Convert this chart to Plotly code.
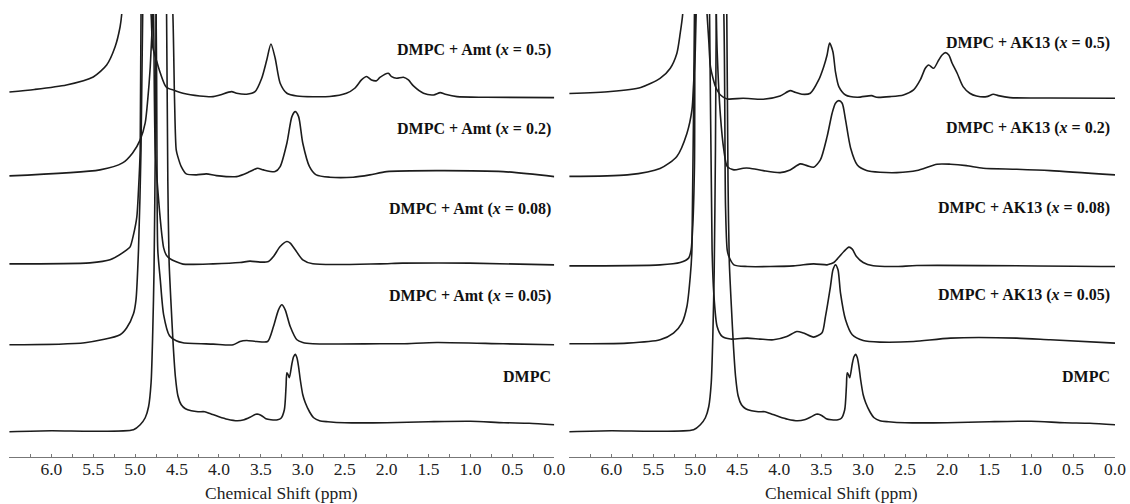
import plotly.graph_objects as go

FONT = "Liberation Serif, Times New Roman, serif"

# ---------------- Left panel: DMPC + Amt ----------------
AMT05_PPM = [6.50, 6.20, 5.82, 5.50, 5.34, 5.24, 5.18, 5.16, 5.00, 4.81, 4.79, 4.74, 4.70, 4.63, 4.53, 4.43,
             4.23, 4.07, 3.99, 3.85, 3.79, 3.67, 3.57, 3.49, 3.43, 3.38, 3.33, 3.27, 3.19, 3.07, 2.68, 2.48,
             2.38, 2.30, 2.24, 2.18, 2.12, 2.08, 1.98, 1.94, 1.88, 1.80, 1.74, 1.68, 1.56, 1.44, 1.36, 1.30,
             1.16, 0.81, 0.00]
AMT05_INT = [0, 2.5, 7, 15, 27, 45, 65, 78, 300, 78, 45, 30, 19, 5, 1.5, -1.3,
             -4, -4.7, -3, 0.3, -1.3, -2.3, 0.3, 13.7, 32, 48, 34, 8.7, -1.3, -4, -4.5, -1.3,
             3.7, 12, 15.5, 12, 11.3, 14.5, 18.7, 15.3, 13.7, 14.7, 12, 6, -1.3, -3, -0.7, -2.3,
             -4.7, -5.3, -5.7]

AMT02_PPM = [6.50, 5.42, 5.15, 5.03, 4.94, 4.88, 4.85, 4.82, 4.79, 4.67, 4.55, 4.53, 4.51, 4.49, 4.45, 4.39,
             4.27, 4.15, 4.03, 3.79, 3.63, 3.54, 3.47, 3.33, 3.27, 3.19, 3.13, 3.09, 3.05, 3.00, 2.92, 2.84,
             2.68, 2.40, 2.20, 2.00, 1.40, 0.61, 0.00]
AMT02_INT = [0, 6, 13, 23, 36, 53, 76, 109, 162, 400, 162, 76, 26, 19, 9.3, 2,
             1, 2, 0.3, -0.7, 4.3, 7.7, 6, 4.3, 9.3, 32.7, 59.3, 64.3, 59.3, 32.7, 9.3, 1,
             -1.3, -1.3, 1, 4.3, 5.3, 4.3, -0.7]

AMT008_PPM = [6.50, 5.54, 5.30, 5.10, 5.06, 5.02, 4.98, 4.96, 4.94, 4.93, 4.85, 4.78, 4.76, 4.72, 4.68, 4.66,
              4.63, 4.59, 4.51, 4.43, 4.07, 3.75, 3.63, 3.51, 3.41, 3.35, 3.27, 3.19, 3.15, 3.09, 3.00, 2.88,
              2.08, 1.81, 1.01, 0.00]
AMT008_INT = [0, 1, 4, 14, 17, 29, 47, 74, 114, 250, 600, 250, 114, 64, 28, 16,
              9, 5.5, 2, -0.3, 0, 1.3, 2.7, 1.7, 2.3, 7.3, 17.3, 22.3, 20.7, 14, 4, 0,
              0, 0.7, 0.7, -1]

AMT005_PPM = [6.50, 5.60, 5.18, 5.10, 5.02, 4.99, 4.96, 4.93, 4.91, 4.84, 4.75, 4.74, 4.73, 4.70, 4.66, 4.59,
              4.51, 4.43, 4.07, 3.83, 3.75, 3.67, 3.55, 3.42, 3.35, 3.29, 3.25, 3.21, 3.15, 3.07, 3.00, 2.88,
              2.08, 1.81, 1.40, 0.61, 0.00]
AMT005_INT = [0, 2, 10, 17, 31, 45, 95, 195, 331, 600, 331, 195, 95, 65, 30, 9,
              4, 2, 0.7, 0, 3.3, 4.3, 3.3, 3.3, 18.3, 35, 40, 35, 18.3, 5, 2.3, 1,
              1, 1, 2.3, 1, 0]

# ---------------- Pure DMPC (same spectrum in both panels) ----------------
DMPC_PPM = [6.50, 6.00, 5.50, 5.02, 4.94, 4.88, 4.84, 4.81, 4.79, 4.775, 4.76, 4.75, 4.69, 4.625, 4.61, 4.595,
            4.57, 4.545, 4.52, 4.49, 4.45, 4.40, 4.33, 4.25, 4.17, 4.10, 4.00, 3.90, 3.78, 3.70, 3.63, 3.56,
            3.53, 3.49, 3.44, 3.38, 3.30, 3.26, 3.22, 3.20, 3.19, 3.175, 3.16, 3.13, 3.11, 3.09, 3.07, 3.05,
            3.03, 3.00, 2.97, 2.92, 2.87, 2.80, 2.70, 2.50, 2.00, 1.50, 1.00, 0.60, 0.30, 0.00]
DMPC_INT = [0, 1, 0.5, 2, 7, 14, 25, 49, 100, 160, 282, 418, 900, 418, 250, 170,
            125, 85, 55, 36, 27, 23, 21, 20, 20, 18, 15, 12.5, 11, 12, 14.5, 17.5,
            17.5, 16, 13, 12, 12, 13.5, 22, 45, 59, 57, 54, 68, 75, 77.5, 74, 65,
            52, 37, 29, 20, 14, 11, 10, 9, 9, 10, 10.5, 9, 8.5, 7]

# ---------------- Right panel: DMPC + AK13 ----------------
AK05_PPM = [6.50, 6.01, 5.65, 5.42, 5.30, 5.22, 5.18, 5.15, 5.00, 4.86, 4.84, 4.82, 4.79, 4.76, 4.70, 4.62,
            4.43, 4.19, 3.99, 3.87, 3.81, 3.73, 3.63, 3.53, 3.47, 3.43, 3.40, 3.36, 3.33, 3.29, 3.21, 3.07,
            2.90, 2.84, 2.68, 2.52, 2.40, 2.32, 2.26, 2.22, 2.16, 2.10, 2.06, 2.02, 1.98, 1.94, 1.88, 1.81,
            1.73, 1.65, 1.53, 1.45, 1.39, 1.25, 0.77, 0.00]
AK05_INT = [0, 2, 6, 15, 25, 40, 60, 79.5, 300, 79.5, 53.5, 27, 15.5, 7, -1.5, -5.5,
            -4.8, -5.8, -2.5, 2.8, 1.2, -0.8, 0.2, 13.5, 26.8, 38.5, 50.5, 41.5, 21.5, 6.8, -1.5, -3.8,
            -2.2, -3.8, -3.2, -1.5, 3.5, 13.5, 25.2, 28.5, 25.2, 33.5, 38.5, 40.8, 38.5, 30.2, 20.2, 6.8,
            0.2, -2.5, -3.2, -0.8, -2.2, -4.2, -4.5, -4.8]

AK02_PPM = [6.50, 5.81, 5.42, 5.22, 5.10, 5.04, 5.02, 5.00, 4.99, 4.87, 4.75, 4.74, 4.70, 4.66, 4.62, 4.54,
            4.43, 4.35, 4.19, 3.99, 3.87, 3.75, 3.67, 3.59, 3.51, 3.43, 3.37, 3.33, 3.29, 3.25, 3.21, 3.15,
            3.07, 2.96, 2.80, 2.60, 2.36, 2.12, 1.96, 1.77, 1.57, 1.17, 0.77, 0.00]
AK02_INT = [0, 1.5, 8, 20, 43, 66.5, 93, 126.5, 162.5, 500, 162.5, 126.5, 60, 26.5, 10, 6.5,
            8.2, 8.2, 5.8, 3.8, 6.5, 12.5, 10.8, 9.2, 16.5, 39.8, 63.2, 73.2, 75.8, 73.2, 56.5, 28.5,
            11.5, 6, 4.2, 3.8, 5.8, 12.2, 12.2, 10.8, 8.2, 7.2, 5.8, 1.5]

AK008_PPM = [6.50, 5.42, 5.18, 5.08, 5.05, 5.03, 5.01, 5.00, 4.84, 4.66, 4.64, 4.62, 4.60, 4.54, 4.38, 3.83,
             3.59, 3.43, 3.39, 3.35, 3.31, 3.23, 3.17, 3.13, 3.08, 3.00, 2.88, 2.60, 2.36, 0.00]
AK008_INT = [0, 1, 3.3, 7.7, 16, 40, 100, 252, 700, 252, 60, 16, 9.3, 1, -0.7, 0,
             2, 1, 2, 3.3, 6.7, 14.3, 18.7, 16.7, 9.3, 3.3, 0, -0.7, 0.3, -0.7]

AK005_PPM = [6.50, 5.81, 5.42, 5.26, 5.16, 5.10, 5.06, 5.04, 5.01, 4.92, 4.83, 4.80, 4.78, 4.74, 4.68, 4.58,
             4.38, 4.23, 4.07, 3.91, 3.79, 3.71, 3.59, 3.49, 3.45, 3.39, 3.36, 3.33, 3.30, 3.27, 3.21, 3.13,
             3.00, 2.80, 2.40, 1.96, 1.17, 0.77, 0.00]
AK005_INT = [0, 0.7, 4, 10.7, 20.7, 37.3, 67.3, 94, 330, 800, 330, 94, 50.7, 17.3, 7.3, 4.7,
             5.7, 4.7, 4, 7.3, 12.3, 10.7, 6.7, 11, 27, 57.3, 74, 79, 74, 50.7, 24, 9,
             3.3, 1.7, 2.3, 5.7, 5.7, 4, 0.7]

LEFT_LABELS = ["DMPC + Amt (<i>x</i> = 0.5)", "DMPC + Amt (<i>x</i> = 0.2)", "DMPC + Amt (<i>x</i> = 0.08)",
               "DMPC + Amt (<i>x</i> = 0.05)", "DMPC"]
RIGHT_LABELS = ["DMPC + AK13 (<i>x</i> = 0.5)", "DMPC + AK13 (<i>x</i> = 0.2)", "DMPC + AK13 (<i>x</i> = 0.08)",
                "DMPC + AK13 (<i>x</i> = 0.05)", "DMPC"]
TICK_VALUES = [0.0, 0.5, 1.0, 1.5, 2.0, 2.5, 3.0, 3.5, 4.0, 4.5, 5.0, 5.5, 6.0]
TICK_LABELS = ["0.0", "0.5", "1.0", "1.5", "2.0", "2.5", "3.0", "3.5", "4.0", "4.5", "5.0", "5.5", "6.0"]
MINOR_TICKS = [0.25, 0.75, 1.25, 1.75, 2.25, 2.75, 3.25, 3.75, 4.25, 4.75, 5.25, 5.75, 6.25]
AXIS_TITLE = "Chemical Shift (ppm)"

# stacking offsets (vertical placement of each spectrum)
LEFT_OFFSETS = [365.3, 281.3, 193.3, 112.3, 25.3]
RIGHT_OFFSETS = [363.8, 280.8, 191.3, 113.3, 25.3]
LEFT_LABEL_Y = [407.3, 328.3, 248.3, 161.6, 80.6]
RIGHT_LABEL_Y = [414.3, 329.3, 249.3, 162.3, 80.6]

left_series = [(AMT05_PPM, AMT05_INT), (AMT02_PPM, AMT02_INT), (AMT008_PPM, AMT008_INT),
               (AMT005_PPM, AMT005_INT), (DMPC_PPM, DMPC_INT)]
right_series = [(AK05_PPM, AK05_INT), (AK02_PPM, AK02_INT), (AK008_PPM, AK008_INT),
                (AK005_PPM, AK005_INT), (DMPC_PPM, DMPC_INT)]

LINE = dict(color="#1c1c1c", width=1.6, shape="spline", smoothing=0.7)

fig = go.Figure()
for (px, iy), off in zip(left_series, LEFT_OFFSETS):
    fig.add_trace(go.Scatter(x=px, y=[v + off for v in iy], mode="lines", line=LINE,
                             xaxis="x", yaxis="y", showlegend=False, hoverinfo="skip"))
for (px, iy), off in zip(right_series, RIGHT_OFFSETS):
    fig.add_trace(go.Scatter(x=px, y=[v + off for v in iy], mode="lines", line=LINE,
                             xaxis="x2", yaxis="y2", showlegend=False, hoverinfo="skip"))

annotations = []
for lab, yy in zip(LEFT_LABELS, LEFT_LABEL_Y):
    annotations.append(dict(text="<b>" + lab + "</b>", x=0.02, y=yy, xref="x", yref="y",
                            xanchor="right", yanchor="middle", showarrow=False,
                            font=dict(family=FONT, size=16, color="#111")))
for lab, yy in zip(RIGHT_LABELS, RIGHT_LABEL_Y):
    annotations.append(dict(text="<b>" + lab + "</b>", x=0.04, y=yy, xref="x2", yref="y2",
                            xanchor="right", yanchor="middle", showarrow=False,
                            font=dict(family=FONT, size=16, color="#111")))
for xd in ["x domain", "x2 domain"]:
    annotations.append(dict(text=AXIS_TITLE, x=0.5, y=-0.081, xref=xd, yref="paper",
                            xanchor="center", yanchor="middle", showarrow=False,
                            font=dict(family=FONT, size=17.5, color="#222")))

xaxis_common = dict(range=[6.505, 0.0], tickmode="array", tickvals=TICK_VALUES, ticktext=TICK_LABELS,
                    ticks="inside", ticklen=3, tickwidth=1, tickcolor="#777",
                    showline=True, linecolor="#777", linewidth=1, showgrid=False, zeroline=False,
                    tickfont=dict(family=FONT, size=17.5, color="#222"), automargin=False,
                    ticklabelstandoff=-4,
                    minor=dict(tickmode="array", tickvals=MINOR_TICKS,
                               ticks="inside", ticklen=3, tickcolor="#777", showgrid=False))
yaxis_common = dict(range=[0, 443.3], visible=False, fixedrange=True)

fig.update_layout(
    width=1130, height=504,
    margin=dict(l=9, r=15, t=14, b=47),
    paper_bgcolor="white", plot_bgcolor="white",
    xaxis=dict(domain=[0.0, 0.4930], anchor="y", **xaxis_common),
    xaxis2=dict(domain=[0.5063, 1.0], anchor="y2", **xaxis_common),
    yaxis=dict(domain=[0, 1], anchor="x", **yaxis_common),
    yaxis2=dict(domain=[0, 1], anchor="x2", **yaxis_common),
    annotations=annotations,
    font=dict(family=FONT),
)

fig.write_html("out.html")
